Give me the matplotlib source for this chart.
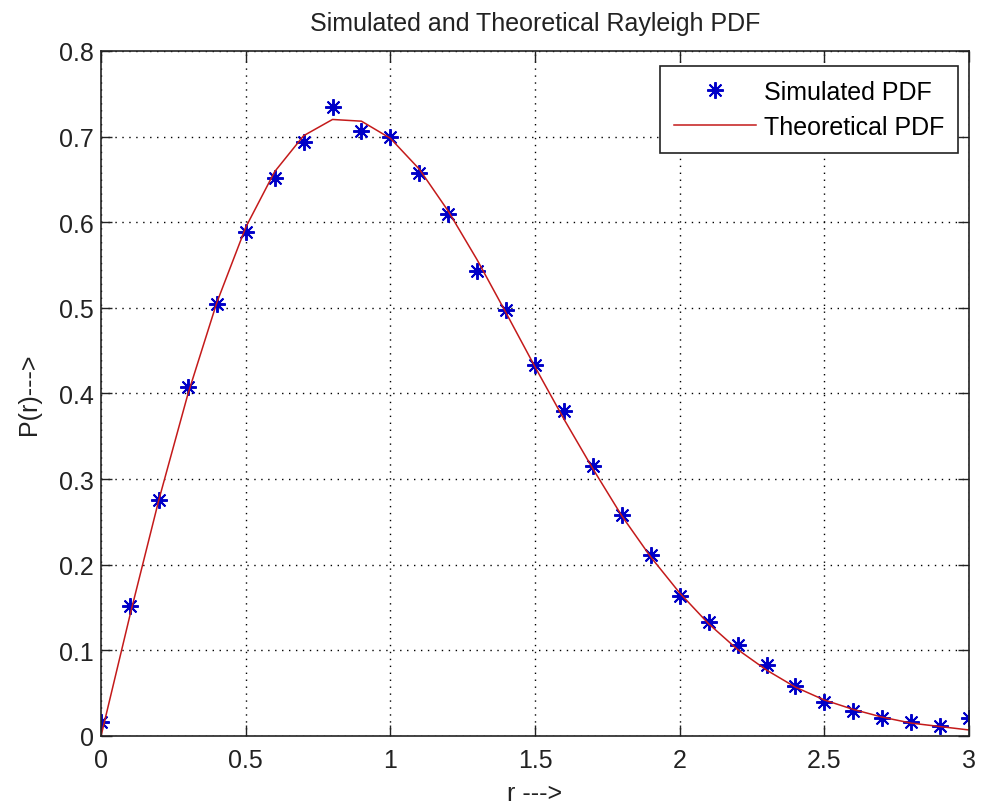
import matplotlib
matplotlib.use('Agg')
import matplotlib.pyplot as plt

plt.rcParams['font.family'] = ['Liberation Sans', 'DejaVu Sans']

# r values and PDFs
r = [0.0, 0.1, 0.2, 0.3, 0.4, 0.5, 0.6, 0.7, 0.8, 0.9, 1.0,
     1.1, 1.2, 1.3, 1.4, 1.5, 1.6, 1.7, 1.8, 1.9, 2.0,
     2.1, 2.2, 2.3, 2.4, 2.5, 2.6, 2.7, 2.8, 2.9, 3.0]
sim_pdf = [0.016, 0.152, 0.276, 0.407, 0.505, 0.589, 0.652, 0.694, 0.735, 0.707, 0.700,
           0.657, 0.610, 0.543, 0.497, 0.433, 0.380, 0.315, 0.258, 0.211, 0.163,
           0.133, 0.106, 0.083, 0.058, 0.040, 0.029, 0.021, 0.016, 0.012, 0.021]
theo_pdf = [0.0, 0.141, 0.276, 0.399, 0.506, 0.594, 0.659, 0.701, 0.720, 0.718, 0.698,
            0.662, 0.613, 0.556, 0.494, 0.431, 0.370, 0.312, 0.257, 0.209, 0.167,
            0.131, 0.101, 0.077, 0.057, 0.042, 0.031, 0.022, 0.015, 0.011, 0.007]

xticks = [0, 0.5, 1, 1.5, 2, 2.5, 3]
xticklabels = ['0', '0.5', '1', '1.5', '2', '2.5', '3']
yticks = [0, 0.1, 0.2, 0.3, 0.4, 0.5, 0.6, 0.7, 0.8]
yticklabels = ['0', '0.1', '0.2', '0.3', '0.4', '0.5', '0.6', '0.7', '0.8']

fig = plt.figure(figsize=(9.81, 8.12), dpi=100)
ax = fig.add_axes([0.1030, 0.0924, 0.8848, 0.8436])

ax.plot(r, sim_pdf, linestyle='none', marker=(8, 2, 0), markersize=12,
        markeredgewidth=1.4, color='#0000c8', label='Simulated PDF')
ax.plot(r, theo_pdf, color='#c41a1a', linewidth=1.1, label='Theoretical PDF')

ax.set_xlim(0, 3)
ax.set_ylim(0, 0.8)
ax.set_xticks(xticks)
ax.set_xticklabels(xticklabels)
ax.set_yticks(yticks)
ax.set_yticklabels(yticklabels)
ax.tick_params(direction='in', length=8, width=1, top=True, right=True,
               labelsize=18, colors='#222222')
ax.tick_params(axis='x', pad=9)
ax.tick_params(axis='y', pad=5)
ax.grid(True, linestyle=(0, (1, 4)), color='black', linewidth=1.0)
for sp in ax.spines.values():
    sp.set_linewidth(1.2)
    sp.set_color('#222222')

ax.set_title('Simulated and Theoretical Rayleigh PDF', fontsize=18, pad=15, color='#222222')
ax.set_xlabel('r --->', fontsize=18, labelpad=6, color='#222222')
ax.set_ylabel('P(r)--->', fontsize=18, labelpad=13, color='#222222')

leg = ax.legend(loc='upper right', bbox_to_anchor=(0.987, 0.978), borderaxespad=0,
                fontsize=18, fancybox=False, framealpha=1, edgecolor='#222222',
                handlelength=3.3, handletextpad=0.3, borderpad=0.55, labelspacing=0.45)
leg.get_frame().set_linewidth(1.2)

fig.savefig('out.png', dpi=100)
